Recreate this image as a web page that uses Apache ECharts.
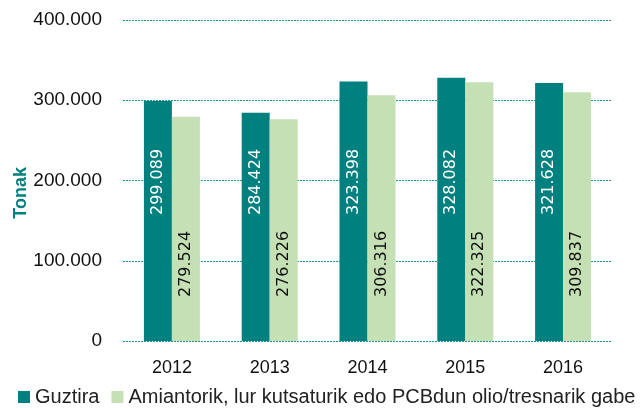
<!DOCTYPE html>
<html><head><meta charset="utf-8">
<script src="https://cdn.jsdelivr.net/npm/echarts@6/dist/echarts.min.js"></script>
<style>html,body{margin:0;padding:0;background:#fff}#c{width:642px;height:408px}</style>
</head><body><div id="c"></div>
<script>
const categories = ['2012', '2013', '2014', '2015', '2016'];
const guztira = [299089, 284424, 323398, 328082, 321628];
const gabe = [279524, 276226, 306316, 322325, 309837];
const seriesNames = ['Guztira', 'Amiantorik, lur kutsaturik edo PCBdun olio/tresnarik gabe'];
const yTicks = [0, 100000, 200000, 300000, 400000];
const yAxisTitle = 'Tonak';

function fmt(v) {
  return String(v).replace(/\B(?=(\d{3})+(?!\d))/g, '.');
}

const chart = echarts.init(document.getElementById('c'), null, {renderer: 'canvas'});
chart.setOption({
  animation: false,
  textStyle: {fontFamily: 'Liberation Sans'},
  grid: {left: 123, right: 30, top: 20, bottom: 67},
  legend: {
    left: 18, top: 387, itemWidth: 12, itemHeight: 12, itemGap: 12,
    icon: 'rect', padding: 0,
    textStyle: {fontSize: 20, color: '#222', fontFamily: 'Liberation Sans'},
    data: seriesNames
  },
  graphic: [{
    type: 'text', left: 12, top: 167,
    style: {text: yAxisTitle, fill: '#00807F', font: 'bold 18px "Liberation Sans"'},
    rotation: Math.PI / 2,
    originX: 0, originY: 0
  }],
  xAxis: {
    type: 'category', data: categories,
    axisLine: {show: false}, axisTick: {show: false},
    axisLabel: {fontSize: 18, color: '#111', margin: 18}
  },
  yAxis: {
    type: 'value', min: yTicks[0], max: yTicks[yTicks.length - 1], interval: 100000,
    axisLine: {show: false}, axisTick: {show: false},
    axisLabel: {fontSize: 19, color: '#111', margin: 21, formatter: v => fmt(v)},
    splitLine: {show: true, lineStyle: {color: '#1f9592', type: [2, 1], width: 1}}
  },
  series: [
    {
      name: seriesNames[0], type: 'bar', data: guztira, barWidth: 28, barGap: '0%',
      itemStyle: {color: '#00807F'},
      label: {
        show: true, position: 'insideBottom', distance: 126, rotate: 90,
        align: 'left', verticalAlign: 'middle',
        fontFamily: 'DejaVu Sans', fontSize: 16, color: '#fff',
        formatter: p => fmt(p.value)
      }
    },
    {
      name: seriesNames[1], type: 'bar', data: gabe, barWidth: 28,
      itemStyle: {color: '#C5E0B4'},
      label: {
        show: true, position: 'insideBottom', distance: 44, rotate: 90,
        align: 'left', verticalAlign: 'middle',
        fontFamily: 'DejaVu Sans', fontSize: 16, color: '#111',
        formatter: p => fmt(p.value)
      }
    }
  ]
});
</script></body></html>
